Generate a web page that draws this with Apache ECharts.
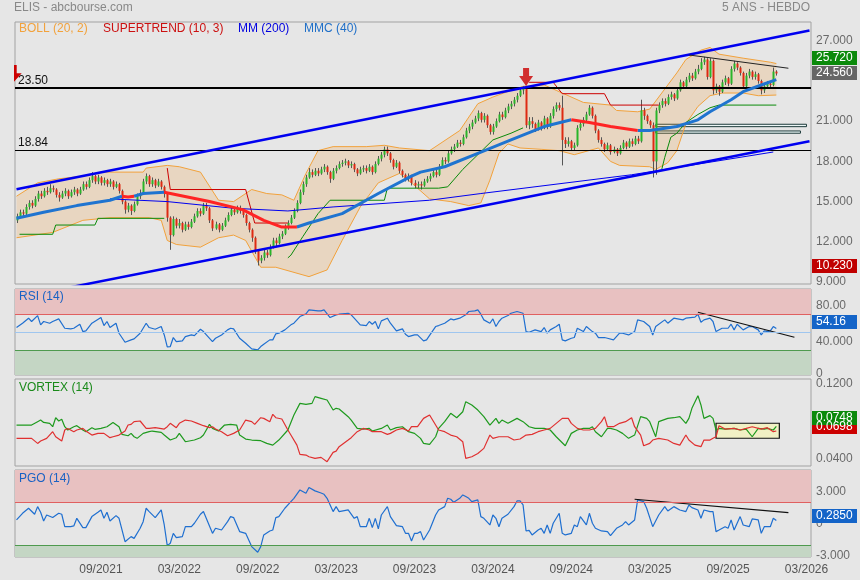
<!DOCTYPE html>
<html><head><meta charset="utf-8">
<script src="https://cdn.jsdelivr.net/npm/echarts@6/dist/echarts.min.js"></script>
<style>html,body{margin:0;padding:0;background:#e6e6e6;}#c{width:860px;height:580px;}</style>
</head><body><div id="c"></div><script>
// ---------- DATA ----------
const startDay = Date.UTC(2021, 1, 22); // first weekly bar (Monday)
const weekCount = 264;
const categories = [];
for (let k = 0; k < weekCount; k++) categories.push(new Date(startDay + k * 7 * 86400000).toISOString().slice(0, 10));
const tickLabels = ['09/2021','03/2022','09/2022','03/2023','09/2023','03/2024','09/2024','03/2025','09/2025','03/2026'];
const mainTicks = [9, 12, 15, 18, 21, 27];

const opens = [13.6,13.9,14.2,14.1,14.6,14.9,14.7,15.2,15.6,15.4,
15.8,15.7,16.0,15.9,15.5,15.3,15.6,15.8,15.4,15.7,
15.9,15.6,15.9,16.3,16.1,16.6,16.9,16.5,16.8,16.4,
16.6,16.3,16.5,16.1,16.3,15.8,15.0,14.4,14.7,14.3,
14.8,15.4,15.6,16.5,16.9,16.3,16.6,16.2,16.5,16.1,
15.6,13.8,12.5,13.7,13.2,13.4,12.9,13.3,13.1,13.5,
13.9,14.3,14.1,14.7,14.5,13.6,13.0,13.3,12.9,13.2,
13.6,14.0,14.4,14.2,14.5,14.3,14.0,13.4,12.9,12.3,
11.3,10.6,10.8,11.2,11.0,11.6,12.1,11.9,12.4,12.6,
13.1,13.4,13.8,14.3,14.9,15.7,16.3,16.8,17.2,17.0,
17.3,17.1,17.4,17.6,17.2,16.7,17.3,17.5,17.8,17.9,
18.0,17.7,17.8,17.4,17.1,17.4,17.5,17.3,17.6,17.2,
17.8,18.2,18.5,18.9,18.6,18.1,17.6,17.9,17.3,17.0,
16.7,16.9,16.4,16.2,16.3,16.2,16.5,16.7,16.9,17.2,
17.0,17.6,18.1,18.0,18.6,18.9,19.1,19.4,19.3,19.8,
20.3,20.6,20.9,21.2,21.6,21.1,21.4,20.7,20.2,20.6,
21.0,21.5,21.3,21.8,22.1,22.3,22.6,22.9,23.3,23.4,
20.7,21.0,20.8,20.4,20.9,20.5,21.2,20.6,21.4,21.9,
22.2,22.0,19.6,19.3,19.5,19.0,19.2,20.5,20.8,21.1,
21.5,22.0,21.4,20.3,19.6,19.3,18.9,19.2,18.7,18.9,
18.6,19.0,19.4,19.1,19.5,19.3,19.7,19.5,21.8,21.4,
21.0,20.7,18.0,21.8,22.2,22.5,22.3,22.8,23.0,22.7,
23.3,23.9,23.6,24.1,24.4,24.2,24.7,24.9,25.4,25.6,
24.3,25.5,23.3,23.6,23.2,23.9,24.2,23.8,24.9,25.3,
25.0,24.6,23.6,24.4,24.7,24.3,24.5,24.0,23.3,23.6,
23.8,23.7,24.7];
const closes = [13.9,14.2,14.1,14.6,14.9,14.7,15.2,15.6,15.4,15.8,
15.7,16.0,15.9,15.5,15.3,15.6,15.8,15.4,15.7,15.9,
15.6,15.9,16.3,16.1,16.6,16.9,16.5,16.8,16.4,16.6,
16.3,16.5,16.1,16.3,15.8,15.0,14.4,14.7,14.3,14.8,
15.4,15.6,16.5,16.9,16.3,16.6,16.2,16.5,16.1,15.6,
13.8,12.5,13.7,13.2,13.4,12.9,13.3,13.1,13.5,13.9,
14.3,14.1,14.7,14.5,13.6,13.0,13.3,12.9,13.2,13.6,
14.0,14.4,14.2,14.5,14.3,14.0,13.4,12.9,12.3,11.3,
10.6,10.8,11.2,11.0,11.6,12.1,11.9,12.4,12.6,13.1,
13.4,13.8,14.3,14.9,15.7,16.3,16.8,17.2,17.0,17.3,
17.1,17.4,17.6,17.2,16.7,17.3,17.5,17.8,17.9,18.0,
17.7,17.8,17.4,17.1,17.4,17.5,17.3,17.6,17.2,17.8,
18.2,18.5,18.9,18.6,18.1,17.6,17.9,17.3,17.0,16.7,
16.9,16.4,16.2,16.3,16.2,16.5,16.7,16.9,17.2,17.0,
17.6,18.1,18.0,18.6,18.9,19.1,19.4,19.3,19.8,20.3,
20.6,20.9,21.2,21.6,21.1,21.4,20.7,20.2,20.6,21.0,
21.5,21.3,21.8,22.1,22.3,22.6,22.9,23.3,23.4,20.7,
21.0,20.8,20.4,20.9,20.5,21.2,20.6,21.4,21.9,22.2,
22.0,19.6,19.3,19.5,19.0,19.2,20.5,20.8,21.1,21.5,
22.0,21.4,20.3,19.6,19.3,18.9,19.2,18.7,18.9,18.6,
19.0,19.4,19.1,19.5,19.3,19.7,19.5,21.8,21.4,21.0,
20.7,18.0,21.8,22.2,22.5,22.3,22.8,23.0,22.7,23.3,
23.9,23.6,24.1,24.4,24.2,24.7,24.9,25.4,25.6,24.3,
25.5,23.3,23.6,23.2,23.9,24.2,23.8,24.9,25.3,25.0,
24.6,23.6,24.4,24.7,24.3,24.5,24.0,23.3,23.6,23.8,
23.7,24.7,24.56];
const lows = [13.4,13.8,13.9,14.0,14.4,14.5,14.6,15.0,15.2,15.3,
15.5,15.6,15.7,15.3,15.0,15.2,15.4,15.2,15.3,15.5,
15.4,15.5,15.8,15.9,16.0,16.4,16.3,16.3,16.2,16.2,
16.1,16.1,15.9,16.0,15.6,14.8,14.1,14.2,14.0,14.2,
14.7,15.2,15.5,16.3,16.1,16.1,16.0,16.1,15.9,15.3,
13.5,11.4,12.4,13.0,13.0,12.7,12.8,12.9,13.0,13.4,
13.8,13.9,14.0,14.3,13.4,12.8,12.9,12.7,12.8,13.1,
13.5,13.9,14.0,14.1,14.1,13.8,13.2,12.7,12.0,11.1,
10.23,10.4,10.6,10.8,10.9,11.5,11.6,11.8,12.2,12.5,
12.9,13.3,13.7,14.2,14.8,15.5,16.1,16.7,16.8,16.9,
16.9,17.0,17.2,17.0,16.4,16.6,17.1,17.4,17.6,17.7,
17.5,17.5,17.2,16.9,17.0,17.2,17.1,17.2,17.0,17.1,
17.7,18.0,18.3,18.4,17.9,17.4,17.5,17.1,16.8,16.5,
16.5,16.2,16.0,16.0,15.9,16.1,16.4,16.5,16.8,16.8,
16.9,17.5,17.8,17.9,18.5,18.7,19.0,19.1,19.2,19.7,
20.1,20.4,20.8,21.0,20.9,20.9,20.5,20.0,20.0,20.5,
20.9,21.1,21.2,21.6,21.9,22.1,22.4,22.8,23.0,20.5,
20.4,20.5,20.2,20.3,20.3,20.4,20.4,20.5,21.2,21.7,
21.8,17.7,19.0,19.1,18.8,18.8,19.1,20.3,20.6,20.9,
21.4,21.2,20.1,19.4,19.1,18.7,18.8,18.5,18.6,18.4,
18.5,18.9,18.9,19.0,19.1,19.2,19.3,19.4,21.1,20.8,
20.5,16.8,17.0,21.6,22.0,22.1,22.2,22.6,22.5,22.6,
23.2,23.4,23.5,23.9,24.0,24.1,24.5,24.8,25.2,24.1,
24.2,23.0,23.1,22.9,23.1,23.7,23.6,23.7,24.7,24.8,
24.4,23.4,23.5,24.2,24.1,24.1,23.8,23.0,23.1,23.4,
23.5,23.6,24.4];
const highs = [14.1,14.4,14.4,14.8,15.1,15.1,15.4,15.8,15.8,16.0,
16.1,16.3,16.2,16.0,15.7,15.8,16.0,15.9,15.9,16.1,
16.0,16.1,16.5,16.5,16.8,17.2,17.0,17.0,16.9,16.8,
16.7,16.7,16.6,16.5,16.4,15.9,15.1,14.9,14.8,15.0,
15.6,15.9,16.7,17.1,17.0,16.8,16.7,16.7,16.6,16.2,
15.7,13.9,13.9,13.8,13.7,13.5,13.5,13.5,13.7,14.1,
14.5,14.5,14.9,14.9,14.6,13.7,13.5,13.4,13.4,13.8,
14.2,14.6,14.6,14.7,14.7,14.4,14.1,13.5,13.0,12.4,
11.4,11.0,11.4,11.4,11.8,12.3,12.3,12.6,12.8,13.3,
13.6,14.0,14.5,15.1,15.9,16.5,17.0,17.5,17.4,17.5,
17.5,17.6,17.8,17.7,17.3,17.5,17.7,18.0,18.1,18.2,
18.1,18.0,17.9,17.5,17.6,17.7,17.7,17.8,17.7,18.0,
18.4,18.7,19.1,19.1,18.7,18.2,18.1,18.0,17.4,17.1,
17.1,17.0,16.6,16.5,16.5,16.7,16.9,17.1,17.4,17.4,
17.8,18.3,18.3,18.8,19.1,19.3,19.6,19.6,20.0,20.5,
20.8,21.1,21.4,21.8,21.7,21.6,21.5,20.8,20.8,21.2,
21.7,21.7,22.0,22.3,22.5,22.8,23.1,23.5,23.6,23.5,
21.3,21.3,20.9,21.1,21.0,21.4,21.3,21.6,22.1,22.4,
22.4,22.9,19.8,19.8,19.6,19.4,20.7,21.0,21.3,21.7,
22.2,22.1,21.5,20.4,19.8,19.4,19.4,19.3,19.1,19.0,
19.2,19.6,19.5,19.7,19.7,19.9,19.9,22.6,22.0,21.5,
21.1,20.9,22.0,22.4,22.7,22.7,23.0,23.2,23.1,23.5,
24.1,24.0,24.3,24.6,24.6,24.9,25.2,25.7,25.8,25.7,
25.7,25.6,23.8,23.7,24.1,24.4,24.3,25.1,25.5,25.4,
25.1,24.7,24.6,24.9,24.8,24.7,24.6,24.1,23.8,24.0,
24.0,25.0,24.8];

// Bollinger (20,2) [week index, value]
const bollUpper = [[0,15.4],[7,16.4],[14,16.7],[22,16.9],[28,17.2],[42,17.2],[43,17.5],[50,17.7],[54,17.6],[61,17.2],[67,15.1],[72,15.0],[78,15.9],[83,15.6],[88,15.5],[92,15.1],[96,17.1],[100,18.8],[105,19.1],[116,19.1],[122,19.2],[127,19.0],[137,18.8],[147,20.3],[153,22.3],[158,22.8],[164,23.3],[168,23.6],[175,23.7],[179,23.3],[188,22.4],[197,22.2],[199,21.8],[206,21.7],[210,21.9],[214,23.1],[219,24.6],[222,25.6],[227,26.3],[230,26.5],[233,26.0],[241,25.7],[250,25.4],[252,25.3]];
const bollLower = [[0,12.3],[12,12.7],[22,13.6],[31,13.8],[44,13.8],[48,13.6],[50,12.1],[53,11.8],[61,11.6],[67,12.3],[72,12.5],[76,12.1],[81,10.1],[86,10.1],[97,9.4],[103,9.9],[108,12.1],[114,14.6],[120,16.4],[127,17.1],[131,16.4],[137,15.2],[144,15.0],[150,14.7],[154,14.9],[157,16.6],[160,18.6],[163,19.3],[167,19.0],[174,18.9],[180,18.8],[185,18.5],[193,19.0],[197,18.0],[200,17.7],[210,17.6],[212,17.4],[216,17.9],[219,18.8],[222,20.8],[226,22.1],[230,22.9],[234,23.1],[241,23.1],[246,22.9],[252,22.95]];
// MMC (40) and MM (200)
const mmc40 = [[0,13.75],[9,14.2],[20,14.7],[31,15.1],[35,15.4],[37,15.35],[39,15.4],[42,15.6],[49,15.7],[64,15.0],[75,14.4],[82,13.6],[88,13.1],[93,13.1],[97,13.4],[108,14.1],[120,15.6],[131,16.9],[134,17.2],[142,17.6],[153,18.6],[164,19.6],[175,20.6],[184,21.1],[190,20.9],[197,20.6],[206,20.3],[210,20.3],[219,20.6],[226,21.1],[230,21.7],[237,22.6],[241,23.2],[247,23.7],[252,24.1]];
const mmcFalling = [[35,39],[49,93],[184,206]];
const mm200 = [[31,15.2],[50,15.0],[72,14.5],[90,14.3],[105,14.6],[137,15.1],[154,15.6],[204,17.0],[251,18.7]];
// SUPERTREND (10,3)
const stGreen1 = [[1,12.56],[12,12.56],[13,13.25],[26,13.25],[27,13.75],[49,13.75]];
const stRed1 = [[50,17.5],[51,15.9],[76,15.9],[79,13.4],[90,13.4]];
const stGreen2 = [[90,10.8],[91,11.0],[95,12.4],[100,14.1],[104,15.1],[122,15.1],[123,16.0],[140,16.0],[143,16.1],[148,17.4],[153,18.5],[158,19.6],[164,20.1],[168,20.5]];
const stRed2 = [[170,23.9],[178,23.9],[181,23.05],[195,23.05],[197,22.2],[213,22.2]];
const stGreen3 = [[214,17.4],[215,18.3],[217,19.8],[219,20.1],[222,20.9],[226,21.5],[230,22.0],[233,22.2],[252,22.2]];
// drawn lines
const channelUp = [[0,15.92],[263,27.76]];
const channelLow = [[0,7.81],[263,19.5]];
const resistLine = [[223,25.94],[256,24.95]];
const levels = [23.50, 18.84];
const gapZones = [[212,262,20.77,20.59],[212,260,20.27,20.10]];
const signalArrow = [[169,24.3]];

// RSI (14)
const rsi = [[0,55.2],[2,60.0],[4,65.6],[5,61.9],[7,68.5],[8,58.2],[9,61.9],[11,60.0],[12,61.9],[14,64.8],[16,54.4],[18,53.7],[19,54.4],[21,58.9],[22,50.7],[23,51.5],[25,60.0],[28,66.3],[29,57.4],[30,61.9],[31,55.2],[33,60.0],[34,48.9],[36,38.9],[38,41.5],[39,42.6],[41,48.9],[43,60.0],[44,55.2],[46,53.3],[48,56.3],[49,47.0],[50,33.7],[51,34.1],[52,44.1],[53,39.6],[55,40.4],[56,45.2],[58,47.0],[59,46.3],[61,53.3],[62,50.7],[65,39.6],[66,43.3],[68,47.0],[70,52.6],[71,54.4],[72,53.7],[74,43.3],[76,37.8],[78,31.5],[80,30.4],[81,34.1],[82,36.7],[84,41.5],[85,41.5],[86,48.2],[87,48.9],[89,52.6],[91,58.2],[92,60.0],[94,67.4],[96,70.4],[97,74.8],[100,73.7],[101,73.7],[102,74.8],[104,66.3],[106,69.3],[107,70.0],[110,71.1],[111,69.3],[112,65.6],[114,58.2],[116,57.4],[117,61.9],[118,58.9],[119,61.9],[120,53.7],[121,62.6],[123,65.6],[124,60.0],[126,51.5],[128,53.7],[129,47.8],[130,45.2],[132,47.0],[133,47.0],[135,40.4],[136,41.5],[137,46.5],
[139,56.3],[140,57.4],[142,60.0],[144,64.8],[145,63.7],[147,65.6],[149,69.3],[150,73.0],[152,73.7],[153,74.8],[154,70.0],[155,63.7],[157,60.0],[158,64.8],[159,56.3],[160,61.9],[161,65.6],[163,68.5],[164,71.1],[166,73.0],[168,71.1],[169,50.7],[170,50.0],[172,52.6],[174,50.7],[175,55.2],[176,48.9],[177,52.6],[179,56.3],[180,58.9],[181,41.5],[182,40.4],[184,43.3],[185,44.1],[186,54.4],[188,50.7],[189,56.3],[191,50.7],[192,48.9],[193,44.1],[195,44.1],[196,43.3],[198,41.5],[200,48.9],[201,48.9],[203,47.0],[205,50.7],[206,63.7],[208,61.9],[210,56.3],[211,47.0],[212,56.3],[215,63.7],[216,60.0],[218,65.6],[221,63.7],[222,65.6],[225,66.7],[226,70.0],[227,61.1],[228,63.7],[230,65.6],[231,61.9],[232,50.7],[234,54.4],[236,54.4],[237,58.9],[238,52.6],[239,58.9],[241,52.6],[243,56.3],[244,56.3],[246,52.6],[247,47.0],[248,51.5],[249,50.7],[250,51.5],[251,56.3],[252,54.16]];
const rsiTrend = [[226,72.2],[258,44.4]];

// VORTEX (14)
const viPlus = [[0,0.0762],[5,0.0762],[7,0.0798],[8,0.0815],[9,0.0790],[11,0.0780],[12,0.0744],[13,0.0840],[14,0.0805],[15,0.0823],[16,0.0744],[17,0.0709],[19,0.0744],[20,0.0755],[22,0.0709],[23,0.0691],[25,0.0734],[26,0.0716],[28,0.0726],[30,0.0744],[32,0.0790],[34,0.0744],[35,0.0662],[37,0.0648],[38,0.0673],[39,0.0637],[40,0.0620],[42,0.0673],[44,0.0691],[45,0.0698],[48,0.0684],[49,0.0655],[51,0.0602],[53,0.0627],[54,0.0673],[56,0.0584],[59,0.0602],[61,0.0627],[62,0.0655],[64,0.0769],[65,0.0726],[67,0.0698],[69,0.0762],[71,0.0769],[73,0.0762],[74,0.0655],[76,0.0612],[78,0.0602],[81,0.0595],[83,0.0566],[85,0.0548],[87,0.0602],[90,0.0709],[92,0.0869],[94,0.0993],[96,0.0983],[98,0.0993],[99,0.1065],[101,0.1047],[103,0.1029],[105,0.0922],[106,0.0940],[107,0.0933],[110,0.0851],[111,0.0815],[113,0.0726],[115,0.0719],[117,0.0726],[118,0.0698],[121,0.0726],[123,0.0762],[124,0.0709],[126,0.0734],[128,0.0744],[130,0.0691],[132,0.0673],[134,0.0620],[135,0.0566],[137,0.0555],
[139,0.0637],[140,0.0726],[142,0.0798],[144,0.0887],[146,0.0840],[148,0.0904],[149,0.1011],[151,0.0976],[153,0.0922],[155,0.0851],[157,0.0762],[159,0.0833],[160,0.0780],[161,0.0815],[163,0.0780],[166,0.0833],[168,0.0798],[170,0.0744],[172,0.0726],[175,0.0726],[177,0.0709],[179,0.0637],[182,0.0541],[184,0.0673],[186,0.0709],[188,0.0726],[190,0.0726],[191,0.0744],[192,0.0691],[194,0.0637],[196,0.0726],[197,0.0726],[199,0.0709],[201,0.0673],[203,0.0620],[205,0.0655],[207,0.0851],[209,0.0833],[210,0.0798],[212,0.0637],[213,0.0798],[216,0.0833],[218,0.0840],[220,0.0851],[222,0.0780],[223,0.0833],[224,0.0940],[226,0.1075],[227,0.0976],[228,0.0833],[230,0.0862],[231,0.0833],[232,0.0709],[233,0.0726],[235,0.0719],[238,0.0726],[240,0.0709],[242,0.0719],[244,0.0637],[246,0.0726],[248,0.0719],[249,0.0726],[251,0.0709],[252,0.0748]];
const viMinus = [[0,0.0620],[5,0.0620],[7,0.0566],[8,0.0591],[10,0.0620],[12,0.0691],[13,0.0637],[15,0.0591],[16,0.0709],[17,0.0726],[19,0.0691],[20,0.0709],[22,0.0726],[23,0.0698],[25,0.0655],[27,0.0673],[29,0.0673],[31,0.0627],[32,0.0637],[34,0.0655],[36,0.0698],[37,0.0762],[38,0.0769],[39,0.0798],[41,0.0805],[43,0.0726],[44,0.0726],[46,0.0734],[49,0.0719],[50,0.0744],[51,0.0780],[53,0.0734],[54,0.0780],[56,0.0815],[58,0.0805],[60,0.0780],[62,0.0755],[64,0.0734],[65,0.0744],[66,0.0719],[68,0.0691],[70,0.0648],[72,0.0673],[74,0.0709],[76,0.0815],[78,0.0798],[79,0.0769],[81,0.0840],[82,0.0833],[84,0.0798],[85,0.0876],[86,0.0840],[88,0.0826],[90,0.0709],[91,0.0655],[93,0.0548],[94,0.0449],[96,0.0442],[97,0.0424],[99,0.0406],[101,0.0417],[103,0.0371],[105,0.0470],[106,0.0484],[107,0.0531],[110,0.0602],[111,0.0627],[113,0.0691],[115,0.0726],[117,0.0709],[118,0.0691],[121,0.0691],[123,0.0662],[124,0.0673],[126,0.0709],[128,0.0726],[130,0.0698],[131,0.0744],[133,0.0744],[135,0.0833],[137,0.0869],
[139,0.0762],[140,0.0709],[142,0.0691],[144,0.0655],[146,0.0637],[148,0.0584],[149,0.0406],[151,0.0424],[153,0.0459],[155,0.0513],[157,0.0655],[158,0.0620],[160,0.0637],[163,0.0637],[165,0.0602],[167,0.0613],[169,0.0655],[171,0.0662],[173,0.0691],[175,0.0709],[177,0.0726],[179,0.0780],[181,0.0833],[183,0.0833],[184,0.0780],[186,0.0726],[188,0.0709],[190,0.0709],[192,0.0726],[194,0.0798],[195,0.0851],[196,0.0744],[198,0.0744],[200,0.0780],[202,0.0798],[204,0.0840],[205,0.0744],[207,0.0655],[208,0.0541],[210,0.0566],[211,0.0602],[213,0.0620],[216,0.0602],[218,0.0566],[220,0.0548],[222,0.0655],[223,0.0602],[225,0.0548],[227,0.0531],[228,0.0602],[230,0.0602],[231,0.0620],[232,0.0637],[233,0.0755],[235,0.0719],[238,0.0726],[240,0.0709],[242,0.0726],[244,0.0744],[247,0.0719],[249,0.0734],[251,0.0691],[252,0.0698]];
const vortexBox = [232, 253, 0.0781, 0.0621];

// PGO (14)
const pgo = [[0,0.34],[2,0.96],[4,1.43],[6,0.87],[7,1.58],[8,1.05],[9,0.24],[10,0.80],[12,0.56],[14,0.96],[15,0.87],[16,-0.29],[18,-0.29],[19,-0.22],[20,0.49],[22,-0.38],[23,-0.38],[25,0.65],[27,1.05],[28,1.27],[29,0.49],[30,1.05],[31,0.24],[33,0.74],[34,0.49],[36,-1.69],[38,-1.22],[39,-1.38],[41,-0.44],[42,0.18],[43,1.43],[44,1.12],[46,0.56],[48,1.27],[49,-0.13],[50,-2.06],[51,-1.84],[52,-0.91],[53,-1.31],[55,-1.22],[56,-0.29],[58,-0.29],[59,0.03],[61,0.87],[62,1.12],[65,-0.91],[66,-0.44],[68,-0.60],[70,0.18],[71,0.65],[72,0.56],[74,-0.75],[76,-0.91],[78,-2.15],[80,-2.68],[81,-2.15],[82,-1.06],[84,-0.69],[85,-0.60],[86,0.56],[87,0.65],[89,1.43],[91,2.05],[92,2.36],[94,3.14],[96,2.83],[97,3.36],[99,3.05],[101,2.85],[102,2.73],[103,2.36],[105,1.12],[106,1.58],[107,1.12],[110,1.27],[112,0.49],[113,0.65],[114,-0.29],[116,-0.29],[117,0.49],[118,-0.38],[119,0.49],[120,-0.50],[121,0.80],[123,1.58],[124,0.65],[126,-0.19],[128,-0.29],[129,-0.91],[130,-0.91],[131,-1.63],[132,-0.91],[133,-0.91],[134,-0.75],[135,-1.53],[137,-0.60],
[139,0.80],[140,1.27],[142,1.58],[143,2.36],[144,2.27],[145,1.99],[147,2.36],[148,2.67],[149,2.52],[150,2.36],[151,2.05],[153,2.21],[154,0.65],[155,0.49],[157,-0.13],[158,0.80],[159,0.49],[160,-0.29],[161,0.49],[163,0.87],[165,1.58],[166,2.11],[167,2.11],[168,1.74],[169,-0.69],[170,-0.63],[171,-1.06],[173,-0.60],[174,-0.44],[175,-0.91],[176,-0.13],[177,-0.91],[178,0.03],[180,0.96],[181,-0.91],[182,-1.06],[184,-0.91],[185,-0.13],[186,-0.29],[187,0.65],[189,-0.13],[190,0.96],[191,0.03],[192,-0.44],[194,-0.69],[196,-0.75],[197,-1.13],[199,-0.44],[201,-0.13],[202,0.18],[203,-0.13],[205,0.34],[206,2.21],[208,2.05],[209,1.43],[211,-0.29],[213,0.80],[215,1.58],[216,1.18],[218,1.58],[220,1.27],[222,1.12],[223,1.74],[224,1.49],[226,1.27],[227,0.49],[228,1.27],[230,1.12],[231,1.12],[232,-0.75],[233,-0.60],[235,-0.29],[236,-0.44],[237,0.34],[238,-0.60],[240,0.65],[241,-0.13],[243,-0.29],[244,0.43],[246,0.34],[247,-0.91],[248,-0.29],[250,-0.29],[251,0.49],[252,0.285]];
const pgoTrend = [[205,2.27],[256,1.02]];

// right-hand value tags
const valueTags = [
  {axis:0, value:25.72, text:'25.720', color:'#0b8a0b'},
  {axis:0, value:24.56, text:'24.560', color:'#666666'},
  {axis:0, value:10.23, text:'10.230', color:'#c00000'},
  {axis:1, value:54.16, text:'54.16', color:'#1464c8'},
  {axis:2, value:0.0698, text:'0.0698', color:'#cc0000'},
  {axis:2, value:0.0748, text:'0.0748', color:'#0b8a0b'},
  {axis:3, value:0.285, text:'0.2850', color:'#1464c8'}
];
const tagShift = [0, 0, 0, -6, -4, -8, -5];

// ---------- CHART ----------
const FONT = '"Liberation Sans", Arial, sans-serif';
const chart = echarts.init(document.getElementById('c'));
const candleData = closes.map((c, i) => [i, opens[i], c, lows[i], highs[i]]);

function renderCandle(params, api) {
  const i = api.value(0), o = api.value(1), c = api.value(2), l = api.value(3), h = api.value(4);
  const pO = api.coord([i, o]), pC = api.coord([i, c]), pL = api.coord([i, l]), pH = api.coord([i, h]);
  const w = api.size([1, 0])[0] * 0.66;
  const top = Math.min(pO[1], pC[1]);
  const hh = Math.max(1, Math.abs(pO[1] - pC[1]));
  const x = Math.round(pO[0]) + 0.5;
  return {type: 'group', children: [
    {type: 'line', shape: {x1: x, y1: pH[1], x2: x, y2: pL[1]}, style: {stroke: '#555', lineWidth: 1}},
    {type: 'rect', shape: {x: x - w / 2, y: top, width: w, height: hh}, style: {fill: c >= o ? '#2ab52a' : '#de2a12'}}
  ]};
}
function renderBollFill(params, api) {
  const pts = [];
  bollUpper.forEach(p => pts.push(api.coord(p)));
  for (let k = bollLower.length - 1; k >= 0; k--) pts.push(api.coord(bollLower[k]));
  return {type: 'polygon', shape: {points: pts}, style: {fill: 'rgba(242,160,62,0.22)'}};
}
const tickFor = d => { const lab = d.slice(5, 7) + '/' + d.slice(0, 4); return (+d.slice(8, 10) <= 7 && tickLabels.includes(lab)) ? lab : ''; };

const grids = [[22, 262], [289, 86], [379, 87], [470, 87]].map(g => ({left: 15, width: 796, top: g[0], height: g[1], show: true, borderColor: '#a2a2a2', borderWidth: 1, backgroundColor: 'transparent'}));
const xAxes = grids.map((g, k) => ({type: 'category', gridIndex: k, data: categories, boundaryGap: true,
  axisLine: {show: false}, axisTick: {show: false}, splitLine: {show: false},
  axisLabel: k === 3 ? {show: true, interval: (idx, v) => tickFor(v) !== '', formatter: v => tickFor(v), color: '#555', fontSize: 12, fontFamily: FONT, margin: 7} : {show: false}}));
const yBase = (k, min, max, ticks, fmt) => ({type: 'value', gridIndex: k, position: 'right', min: min, max: max, scale: true,
  splitLine: {show: false}, axisLine: {show: false}, axisTick: {show: false},
  axisLabel: {customValues: ticks, formatter: fmt, color: '#6a6a6a', fontSize: 12, fontFamily: FONT, margin: 5}});
const yAxes = [
  yBase(0, 8.85, 28.4, mainTicks, v => v.toFixed(3)),
  yBase(1, 2.5, 98, [40, 80], v => v === 80 ? '80.00' : '40.000'),
  yBase(2, 0.0325, 0.1253, [0.04, 0.12], v => v.toFixed(4)),
  yBase(3, -3.12, 5.0, [-3, 0, 3], v => v === 0 ? '0' : v.toFixed(3))
];

const series = [];
const ln = (data, k, color, width, z, extra) => Object.assign({type: 'line', data: data, xAxisIndex: k, yAxisIndex: k, symbol: 'none', silent: true, clip: true, lineStyle: {color: color, width: width}, z: z}, extra || {});
// main panel
series.push({type: 'custom', xAxisIndex: 0, yAxisIndex: 0, data: [[0, bollUpper[0][1]]], encode: {x: 0, y: 1}, renderItem: renderBollFill, silent: true, z: 1, clip: true});
series.push(ln(bollUpper, 0, '#f2a23c', 1, 2));
series.push(ln(bollLower, 0, '#f2a23c', 1, 2));
series.push({type: 'custom', xAxisIndex: 0, yAxisIndex: 0, data: candleData, encode: {x: 0, y: [1, 2, 3, 4]}, renderItem: renderCandle, z: 3, silent: true, clip: true});
[[stGreen1, '#0a8a0a'], [stRed1, '#cc0000'], [stGreen2, '#0a8a0a'], [stRed2, '#cc0000'], [stGreen3, '#0a8a0a']].forEach(s => series.push(ln(s[0], 0, s[1], 1, 4)));
series.push(ln(mm200, 0, '#0000f0', 1, 5, {markLine: {silent: true, symbol: ['none', 'none'], data: [
  {yAxis: levels[0], lineStyle: {color: '#000', width: 2, type: 'solid'}, label: {show: true, position: 'insideStartTop', formatter: '23.50', color: '#111', fontSize: 12, fontFamily: FONT, distance: [3, 1]}},
  {yAxis: levels[1], lineStyle: {color: '#000', width: 1, type: 'solid'}, label: {show: true, position: 'insideStartTop', formatter: '18.84', color: '#111', fontSize: 12, fontFamily: FONT, distance: [3, 1]}}
]}}));
// MMC (40): blue while rising, red while falling
const inRange = (a, b) => mmc40.filter(p => p[0] >= a && p[0] <= b);
const bluePieces = [];
let prevEnd = 0;
mmcFalling.forEach(r => { bluePieces.push([prevEnd, r[0]]); prevEnd = r[1]; });
bluePieces.push([prevEnd, 999]);
bluePieces.forEach(r => series.push(ln(inRange(r[0], r[1]), 0, '#1f74d0', 3, 6)));
mmcFalling.forEach(r => series.push(ln(inRange(r[0], r[1]), 0, '#ff2424', 3, 6)));
series.push(ln(channelUp, 0, '#0000f0', 2.5, 7));
series.push(ln(channelLow, 0, '#0000f0', 2.5, 7));
series.push(ln(resistLine, 0, '#222', 1, 8, {markArea: {silent: true, data: gapZones.map(g => [
  {coord: [g[0], g[2]], itemStyle: {color: 'rgba(236,248,248,0.95)', borderColor: '#1c3a3a', borderWidth: 1}}, {coord: [g[1], g[3]]}])}}));
series.push({type: 'scatter', xAxisIndex: 0, yAxisIndex: 0, data: signalArrow, symbol: 'path://M4,0L10,0L10,8L14,8L7,18L0,8L4,8Z', symbolSize: [14, 18], itemStyle: {color: '#cc0000'}, silent: true, z: 9});
// RSI panel
series.push(ln([[0, 50]], 1, 'transparent', 0, 1, {markArea: {silent: true, data: [
  [{yAxis: 70, itemStyle: {color: '#e8c1c1'}}, {yAxis: 98}], [{yAxis: 2.5, itemStyle: {color: '#c4d6c4'}}, {yAxis: 30}]]},
  markLine: {silent: true, symbol: ['none', 'none'], label: {show: false}, data: [
  {yAxis: 70, lineStyle: {color: '#e06060', width: 1, type: 'solid'}}, {yAxis: 30, lineStyle: {color: '#4e9a4e', width: 1, type: 'solid'}}, {yAxis: 50, lineStyle: {color: '#9fc6ef', width: 1, type: 'solid'}}]}}));
series.push(ln(rsi, 1, '#1f6fd0', 1.2, 3));
series.push(ln(rsiTrend, 1, '#111', 1.2, 4));
// VORTEX panel
series.push(ln([[0, 0.07]], 2, 'transparent', 0, 1, {markArea: {silent: true, data: [
  [{coord: [vortexBox[0], vortexBox[2]], itemStyle: {color: '#f1f0c4', borderColor: '#111', borderWidth: 1.2}}, {coord: [vortexBox[1], vortexBox[3]]}]]}}));
series.push(ln(viPlus, 2, '#1e9a1e', 1.2, 3));
series.push(ln(viMinus, 2, '#e03030', 1.2, 3));
// PGO panel
series.push(ln([[0, 0]], 3, 'transparent', 0, 1, {markArea: {silent: true, data: [
  [{yAxis: 2, itemStyle: {color: '#e8c1c1'}}, {yAxis: 5}], [{yAxis: -3.12, itemStyle: {color: '#c4d6c4'}}, {yAxis: -2}]]},
  markLine: {silent: true, symbol: ['none', 'none'], label: {show: false}, data: [
  {yAxis: 2, lineStyle: {color: '#e06060', width: 1, type: 'solid'}}, {yAxis: -2, lineStyle: {color: '#4e9a4e', width: 1, type: 'solid'}}]}}));
series.push(ln(pgo, 3, '#1f6fd0', 1.2, 3));
series.push(ln(pgoTrend, 3, '#111', 1.2, 4));

chart.setOption({
  animation: false,
  backgroundColor: '#e6e6e6',
  grid: grids, xAxis: xAxes, yAxis: yAxes, series: series
});

// texts and value tags, the tags placed through the axes' scales
const txt = (x, y, text, color, align) => ({type: 'text', x: x, y: y, silent: true, z: 100,
  style: {text: text, fill: color, font: '12px ' + FONT, align: align || 'left', verticalAlign: 'middle'}});
const gfx = [
  txt(14, 8, 'ELIS - abcbourse.com', '#888'),
  txt(810, 8, '5 ANS - HEBDO', '#888', 'right'),
  txt(19, 29, 'BOLL (20, 2)', '#f2a23c'),
  txt(103, 29, 'SUPERTREND (10, 3)', '#cc1010'),
  txt(238, 29, 'MM (200)', '#0000e0'),
  txt(304, 29, 'MMC (40)', '#1f6fc8'),
  txt(19, 297, 'RSI (14)', '#1a62c4'),
  txt(19, 388, 'VORTEX (14)', '#1a8a1a'),
  txt(19, 479, 'PGO (14)', '#1a62c4'),
  {type: 'polygon', silent: true, z: 100, shape: {points: [[14, 65], [16.7, 65], [16.7, 73.3], [21.7, 73.3], [14, 81.7]]}, style: {fill: '#cc0000'}}
];
const zeroY = chart.convertToPixel({yAxisIndex: 1}, 0);
gfx.push(txt(816, zeroY - 4, '0', '#6a6a6a'));
valueTags.forEach((t, k) => {
  const y = Math.round(chart.convertToPixel({yAxisIndex: t.axis}, t.value) + tagShift[k] - 7);
  gfx.push({type: 'rect', silent: true, z: 101, shape: {x: 812, y: y, width: 45, height: 14}, style: {fill: t.color}});
  gfx.push({type: 'text', silent: true, z: 102, x: 816, y: y + 7, style: {text: t.text, fill: '#fff', font: '12px ' + FONT, verticalAlign: 'middle'}});
});
chart.setOption({graphic: gfx});
</script></body></html>
